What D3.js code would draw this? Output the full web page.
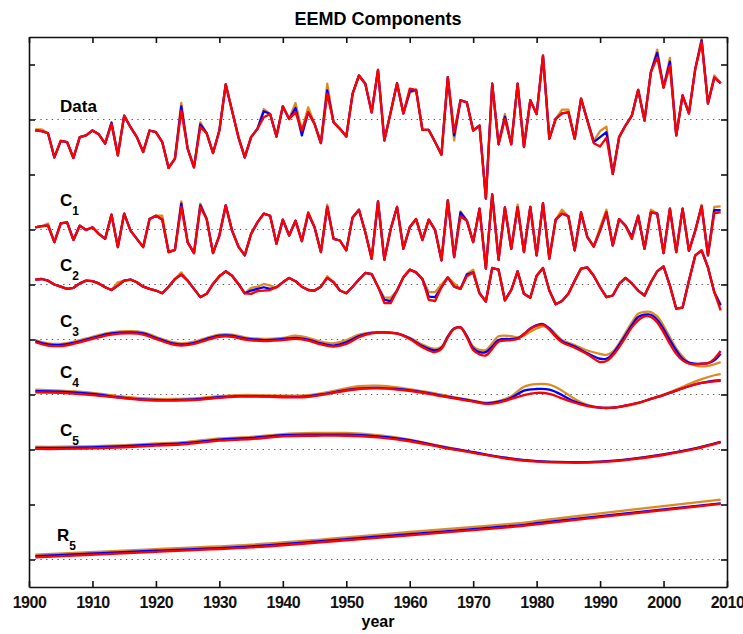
<!DOCTYPE html>
<html>
<head>
<meta charset="utf-8">
<script src="https://cdn.jsdelivr.net/npm/d3@7"></script>
<style>
  body { margin: 0; background: #fff; }
  text { font-family: "Liberation Sans", Arial, Helvetica, sans-serif; font-weight: bold; }
</style>
</head>
<body>
<script>
// anos (eje x)
var years = d3.range(1901, 2010);
var xTicks = [1900, 1910, 1920, 1930, 1940, 1950, 1960, 1970, 1980, 1990, 2000, 2010];
var yTicks = [0, 1, 2, 3, 4, 5, 6, 7, 8, 9];

// serie original (rojo), desde 1901
var dataRed = [
  -0.20, -0.21, -0.25, -0.69, -0.39, -0.41, -0.70, -0.32, -0.29, -0.20,
  -0.27, -0.44, -0.08, -0.65, 0.07, -0.14, -0.32, -0.59, -0.20, -0.23,
  -0.41, -0.88, -0.71, 0.16, -0.53, -0.87, -0.14, -0.25, -0.61, -0.20,
  0.64, 0.16, -0.32, -0.69, -0.32, -0.17, 0.04, 0.10, -0.31, 0.24,
  0.01, 0.13, -0.20, 0.13, -0.08, -0.43, 0.47, -0.05, -0.17, -0.31,
  0.47, 0.80, 0.65, 0.13, 0.90, -0.38, 0.13, 0.66, 0.11, 0.56,
  0.54, -0.19, -0.19, -0.41, -0.64, 0.77, -0.23, 0.35, 0.31, -0.20,
  -0.11, -1.44, 0.65, -0.45, 0.01, -0.45, 0.65, -0.50, 0.35, 0.10,
  1.16, -0.35, 0.01, 0.11, 0.13, -0.35, 0.38, -0.02, -0.43, -0.49,
  -0.33, -0.99, -0.32, -0.11, 0.07, 0.54, -0.02, 0.86, 1.13, 0.58,
  0.98, -0.29, 0.44, 0.11, 0.92, 1.41, 0.29, 0.76, 0.66
];
// donde azul / naranja se separan del rojo
var dataBlueFix = [[1913, -0.06], [1924, 0.24], [1927, -0.09], [1937, 0.15], [1942, 0.21], [1943, -0.29],
  [1947, 0.53], [1960, 0.51], [1967, -0.29], [1975, 0.05], [1989, -0.41], [1990, -0.32], [1991, -0.23],
  [1999, 1.21], [2001, 1.05], [2006, 1.44]];
var dataOrangeFix = [[1901, -0.18], [1902, -0.18], [1913, -0.05], [1924, 0.30], [1927, -0.05], [1937, 0.19],
  [1942, 0.30], [1944, 0.22], [1947, 0.65], [1960, 0.48], [1967, -0.38], [1975, 0.10], [1984, 0.18],
  [1985, 0.18], [1989, -0.39], [1990, -0.21], [1991, -0.13], [1999, 1.27], [2001, 1.12], [2006, 1.47], [2008, 0.80]];

var c1Red = [
  0.04, 0.06, 0.07, -0.23, 0.11, 0.13, -0.19, 0.07, -0.01, 0.04,
  -0.08, -0.17, 0.27, -0.32, 0.29, -0.02, -0.17, -0.32, 0.19, 0.25,
  0.18, -0.41, -0.37, 0.41, -0.23, -0.43, 0.41, 0.19, -0.43, -0.11,
  0.44, -0.02, -0.31, -0.47, -0.08, 0.13, 0.29, 0.25, -0.26, 0.18,
  -0.11, 0.16, -0.21, 0.31, 0.04, -0.41, 0.41, -0.17, -0.20, -0.38,
  0.22, 0.36, -0.05, -0.53, 0.51, -0.55, 0.01, 0.41, -0.35, 0.04,
  0.19, -0.19, 0.18, -0.01, -0.56, 0.53, -0.50, 0.24, 0.16, -0.23,
  0.38, -0.71, 0.64, -0.55, 0.40, -0.35, 0.40, -0.41, 0.41, -0.47,
  0.48, -0.53, 0.18, 0.29, 0.24, -0.38, 0.31, -0.14, -0.31, -0.02,
  0.31, -0.29, 0.19, 0.07, -0.17, 0.25, -0.35, 0.31, 0.29, -0.43,
  0.38, -0.41, 0.38, -0.39, -0.02, 0.42, -0.47, 0.30, 0.31
];
var c1BlueFix = [[1924, 0.47], [1927, 0.44], [1944, 0.28], [1968, 0.31], [1995, -0.13], [2008, 0.35], [2009, 0.35]];
var c1OrangeFix = [[1903, 0.11], [1921, 0.25], [1924, 0.51], [1927, 0.47], [1947, 0.45], [1968, 0.33], [1977, 0.45],
  [1984, 0.36], [1990, 0.04], [1991, 0.36], [1998, 0.36], [2006, 0.45], [2008, 0.41], [2009, 0.42]];

var c2Red = [
  0.09, 0.10, 0.07, 0.00, -0.04, -0.08, -0.06, 0.02, 0.07, 0.06,
  0.02, -0.05, -0.10, -0.02, 0.07, 0.09, 0.04, -0.04, -0.08, -0.11,
  -0.16, -0.04, 0.10, 0.18, 0.07, -0.08, -0.23, -0.17, 0.01, 0.15,
  0.24, 0.16, 0.01, -0.16, -0.17, -0.12, -0.11, -0.10, -0.05, 0.04,
  0.12, 0.06, -0.04, -0.10, -0.11, -0.04, 0.12, 0.04, -0.11, -0.16,
  -0.04, 0.09, 0.21, 0.19, -0.04, -0.34, -0.34, -0.11, 0.13, 0.27,
  0.22, 0.10, -0.28, -0.30, -0.05, 0.13, -0.04, -0.08, 0.15, 0.22,
  -0.16, -0.31, 0.30, 0.27, -0.29, -0.10, 0.24, -0.17, -0.24, 0.16,
  0.30, -0.11, -0.36, -0.30, -0.17, 0.07, 0.29, 0.31, 0.16, -0.05,
  -0.23, -0.20, 0.01, 0.12, 0.02, -0.11, -0.20, 0.04, 0.24, 0.33,
  -0.02, -0.44, -0.42, 0.07, 0.53, 0.62, 0.31, -0.14, -0.47
];
var c2BlueFix = [[1935, -0.11], [1936, -0.08], [1937, -0.05], [1938, -0.08], [1956, -0.28], [1957, -0.30],
  [1963, -0.22], [1964, -0.23], [1969, 0.18], [2009, -0.38]];
var c2OrangeFix = [[1914, 0.04], [1924, 0.22], [1935, -0.06], [1936, -0.04], [1937, 0.01], [1938, -0.02],
  [1947, 0.15], [1956, -0.24], [1957, -0.24], [1963, -0.14], [1964, -0.14], [1965, 0.00], [1967, 0.02],
  [1969, 0.19], [1970, 0.27], [2009, -0.36]];

// componentes suaves: pares [ano, valor]
var c3Red = [[1901, -0.05], [1903, -0.11], [1905, -0.12], [1907, -0.08], [1910, 0.01], [1913, 0.09], [1916, 0.11],
  [1918, 0.09], [1920, 0.01], [1922, -0.07], [1924, -0.11], [1926, -0.08], [1928, -0.01], [1930, 0.05], [1932, 0.05],
  [1934, 0.00], [1937, -0.03], [1940, -0.01], [1942, 0.01], [1944, -0.02], [1946, -0.09], [1948, -0.13], [1950, -0.08],
  [1952, 0.04], [1954, 0.11], [1956, 0.13], [1958, 0.11], [1960, 0.01], [1962, -0.14], [1964, -0.23], [1965, -0.17],
  [1966, 0.04], [1967, 0.19], [1968, 0.22], [1969, 0.04], [1970, -0.19], [1971, -0.27], [1972, -0.29], [1973, -0.17],
  [1974, -0.04], [1976, -0.01], [1977, 0.01], [1978, 0.10], [1979, 0.19], [1980, 0.25], [1981, 0.27], [1982, 0.18],
  [1983, 0.05], [1984, -0.05], [1986, -0.15], [1988, -0.27], [1990, -0.41], [1991, -0.39], [1992, -0.29], [1993, -0.14],
  [1994, 0.04], [1995, 0.22], [1996, 0.35], [1997, 0.42], [1998, 0.41], [1999, 0.31], [2000, 0.13], [2001, -0.08],
  [2002, -0.26], [2003, -0.38], [2004, -0.44], [2005, -0.45], [2006, -0.44], [2007, -0.43], [2008, -0.35], [2009, -0.21]];
var c3Blue = [[1901, -0.03], [1903, -0.09], [1905, -0.10], [1907, -0.06], [1910, 0.03], [1913, 0.11], [1916, 0.13],
  [1918, 0.11], [1920, 0.03], [1922, -0.05], [1924, -0.09], [1926, -0.06], [1928, 0.01], [1930, 0.07], [1932, 0.07],
  [1934, 0.02], [1937, -0.01], [1940, 0.01], [1942, 0.03], [1944, 0.00], [1946, -0.07], [1948, -0.11], [1950, -0.05],
  [1952, 0.06], [1954, 0.12], [1956, 0.13], [1958, 0.11], [1960, 0.02], [1962, -0.12], [1964, -0.20], [1965, -0.15],
  [1966, 0.05], [1967, 0.20], [1968, 0.22], [1969, 0.06], [1970, -0.16], [1971, -0.23], [1972, -0.23], [1973, -0.13],
  [1974, -0.01], [1976, 0.01], [1977, 0.02], [1978, 0.10], [1979, 0.20], [1980, 0.26], [1981, 0.28], [1982, 0.20],
  [1983, 0.07], [1984, -0.03], [1986, -0.13], [1988, -0.25], [1990, -0.35], [1991, -0.35], [1992, -0.26], [1993, -0.10],
  [1994, 0.08], [1995, 0.26], [1996, 0.41], [1997, 0.45], [1998, 0.45], [1999, 0.36], [2000, 0.19], [2001, -0.01],
  [2002, -0.20], [2003, -0.35], [2004, -0.42], [2005, -0.44], [2006, -0.44], [2007, -0.43], [2008, -0.38], [2009, -0.26]];
var c3Orange = [[1901, -0.01], [1903, -0.07], [1905, -0.08], [1907, -0.04], [1910, 0.05], [1913, 0.13], [1916, 0.15],
  [1918, 0.13], [1920, 0.05], [1922, -0.03], [1924, -0.07], [1926, -0.04], [1928, 0.03], [1930, 0.09], [1932, 0.09],
  [1934, 0.04], [1937, 0.01], [1940, 0.03], [1942, 0.07], [1944, 0.03], [1946, -0.04], [1948, -0.07], [1950, -0.01],
  [1952, 0.09], [1954, 0.13], [1956, 0.13], [1958, 0.10], [1960, 0.03], [1962, -0.09], [1964, -0.17], [1965, -0.13],
  [1966, 0.06], [1967, 0.20], [1968, 0.21], [1969, 0.07], [1970, -0.13], [1971, -0.19], [1972, -0.19], [1973, -0.07],
  [1974, 0.06], [1976, 0.06], [1977, 0.04], [1978, 0.07], [1979, 0.14], [1980, 0.20], [1981, 0.24], [1982, 0.21],
  [1983, 0.10], [1984, -0.01], [1986, -0.10], [1988, -0.20], [1990, -0.26], [1991, -0.28], [1992, -0.22], [1993, -0.07],
  [1994, 0.12], [1995, 0.31], [1996, 0.47], [1997, 0.50], [1998, 0.50], [1999, 0.42], [2000, 0.25], [2001, 0.04],
  [2002, -0.16], [2003, -0.31], [2004, -0.42], [2005, -0.47], [2006, -0.49], [2007, -0.48], [2008, -0.45], [2009, -0.41]];

var c4Years = [1901, 1905, 1910, 1915, 1920, 1923, 1926, 1930, 1933, 1936, 1940, 1943, 1946, 1949, 1952, 1955, 1958,
  1961, 1964, 1967, 1970, 1972, 1974, 1976, 1978, 1980, 1982, 1984, 1986, 1988, 1990, 1992, 1994, 1996, 1998, 2000,
  2002, 2004, 2006, 2008, 2009];
var c4Red = [0.04, 0.03, -0.01, -0.07, -0.11, -0.11, -0.10, -0.06, -0.04, -0.04, -0.05, -0.05, -0.01, 0.05, 0.10, 0.11,
  0.09, 0.05, -0.01, -0.07, -0.13, -0.17, -0.15, -0.08, -0.01, 0.03, 0.01, -0.07, -0.15, -0.21, -0.24, -0.24, -0.20,
  -0.15, -0.08, -0.01, 0.07, 0.15, 0.21, 0.24, 0.25];
var c4Blue = [0.06, 0.05, 0.01, -0.06, -0.10, -0.10, -0.09, -0.05, -0.03, -0.03, -0.04, -0.04, 0.00, 0.06, 0.11, 0.12,
  0.10, 0.06, 0.00, -0.06, -0.12, -0.16, -0.13, -0.06, 0.07, 0.10, 0.09, -0.01, -0.13, -0.20, -0.24, -0.24, -0.20,
  -0.15, -0.08, -0.01, 0.07, 0.15, 0.21, 0.25, 0.26];
var c4Orange = [0.09, 0.07, 0.03, -0.04, -0.08, -0.08, -0.07, -0.03, -0.01, -0.01, -0.02, -0.02, 0.02, 0.09, 0.15, 0.16,
  0.13, 0.08, 0.02, -0.05, -0.11, -0.15, -0.12, -0.03, 0.14, 0.19, 0.18, 0.07, -0.08, -0.19, -0.24, -0.24, -0.21,
  -0.16, -0.08, 0.00, 0.09, 0.19, 0.28, 0.35, 0.37];

var c5Years = [1901, 1905, 1910, 1915, 1920, 1925, 1930, 1935, 1940, 1945, 1950, 1955, 1960, 1965, 1970, 1975, 1980,
  1985, 1990, 1995, 2000, 2005, 2009];
var c5Red = [0.01, 0.01, 0.02, 0.04, 0.07, 0.10, 0.16, 0.19, 0.24, 0.25, 0.25, 0.22, 0.15, 0.04, -0.06, -0.16, -0.22,
  -0.24, -0.23, -0.18, -0.10, 0.01, 0.13];
var c5Blue = [0.03, 0.03, 0.04, 0.06, 0.09, 0.12, 0.18, 0.21, 0.26, 0.27, 0.27, 0.24, 0.17, 0.05, -0.05, -0.15, -0.21,
  -0.23, -0.22, -0.17, -0.09, 0.02, 0.14];
var c5Orange = [0.05, 0.05, 0.06, 0.08, 0.11, 0.14, 0.20, 0.23, 0.28, 0.30, 0.30, 0.26, 0.18, 0.06, -0.05, -0.15, -0.21,
  -0.23, -0.22, -0.17, -0.09, 0.02, 0.14];

var r5Years = [1901, 1920, 1935, 1950, 1960, 1975, 1980, 1990, 2009];
var r5Red = [0.04, 0.14, 0.22, 0.35, 0.44, 0.58, 0.64, 0.77, 1.01];
var r5Blue = [0.06, 0.16, 0.24, 0.37, 0.46, 0.60, 0.66, 0.79, 1.02];
var r5Orange = [0.09, 0.19, 0.27, 0.40, 0.50, 0.64, 0.70, 0.84, 1.09];

// nivel de referencia de cada componente en el eje y
var names = ["Data", "C", "C", "C", "C", "C", "R"];
var subs = ["", "1", "2", "3", "4", "5", "5"];
var baselines = [8, 6, 5, 4, 3, 2, 0];

var width = 743;
var height = 634;
var margen = { arriba: 37, abajo: 47, izquierda: 29, derecha: 16 };
var labelDy = [-8, -24, -14, -12.5, -16.5, -14, -19];
var colores = { orange: "#dd8a1e", blue: "#0000ff", red: "#ff0000" };

function conFix(valores, fixes) {
  var m = new Map(fixes);
  return years.map(function (yr, i) { return [yr, m.has(yr) ? m.get(yr) : valores[i]]; });
}
function pares(ys, vs) { return ys.map(function (yr, i) { return [yr, vs[i]]; }); }

var componentes = [
  { red: conFix(dataRed, []), blue: conFix(dataRed, dataBlueFix), orange: conFix(dataRed, dataOrangeFix), curva: d3.curveLinear },
  { red: conFix(c1Red, []), blue: conFix(c1Red, c1BlueFix), orange: conFix(c1Red, c1OrangeFix), curva: d3.curveLinear },
  { red: conFix(c2Red, []), blue: conFix(c2Red, c2BlueFix), orange: conFix(c2Red, c2OrangeFix), curva: d3.curveLinear },
  { red: c3Red, blue: c3Blue, orange: c3Orange, curva: d3.curveCatmullRom.alpha(0.5) },
  { red: pares(c4Years, c4Red), blue: pares(c4Years, c4Blue), orange: pares(c4Years, c4Orange), curva: d3.curveNatural },
  { red: pares(c5Years, c5Red), blue: pares(c5Years, c5Blue), orange: pares(c5Years, c5Orange), curva: d3.curveNatural },
  { red: pares(r5Years, r5Red), blue: pares(r5Years, r5Blue), orange: pares(r5Years, r5Orange), curva: d3.curveNatural }
];

var escalaX = d3.scaleLinear()
  .domain([1900, 2010])
  .range([margen.izquierda, width - margen.derecha]);

var escalaY = d3.scaleLinear()
  .domain([-0.5, 9.5])
  .range([height - margen.abajo, margen.arriba]);

var svg = d3.select("body")
  .append("svg")
  .attr("width", width)
  .attr("height", height);

// lineas punteadas de referencia
svg.selectAll("line.base")
  .data(baselines)
  .join("line")
  .attr("class", "base")
  .attr("x1", escalaX(1900))
  .attr("x2", escalaX(2010))
  .attr("y1", function (d) { return escalaY(d); })
  .attr("y2", function (d) { return escalaY(d); })
  .attr("stroke", "#555")
  .attr("stroke-width", 1.2)
  .attr("stroke-dasharray", "1.3,4.4");

// curvas: naranja, azul, rojo encima
componentes.forEach(function (c, i) {
  var linea = d3.line()
    .x(function (d) { return escalaX(d[0]); })
    .y(function (d) { return escalaY(baselines[i] + d[1]); })
    .curve(c.curva);
  ["orange", "blue", "red"].forEach(function (k) {
    svg.append("path")
      .attr("d", linea(c[k]))
      .attr("fill", "none")
      .attr("stroke", colores[k])
      .attr("stroke-width", 2.3)
      .attr("stroke-linejoin", "round");
  });
});

// etiquetas
componentes.forEach(function (c, i) {
  var t = svg.append("text")
    .attr("x", i === 6 ? 57 : 60)
    .attr("y", escalaY(baselines[i]) + labelDy[i])
    .style("font-size", "17px")
    .text(names[i]);
  if (subs[i]) {
    t.append("tspan")
      .attr("dy", 9)
      .style("font-size", "12px")
      .text(subs[i]);
  }
});

// ejes con marcas hacia dentro
var ejeAbajo = d3.axisBottom(escalaX).tickValues(xTicks).tickSize(-6).tickSizeOuter(0)
  .tickPadding(10).tickFormat(d3.format("d"));
var gAbajo = svg.append("g")
  .attr("transform", "translate(0," + (height - margen.abajo) + ")")
  .call(ejeAbajo);

svg.append("g")
  .attr("transform", "translate(0," + margen.arriba + ")")
  .call(d3.axisTop(escalaX).tickValues(xTicks).tickSize(-6).tickSizeOuter(0).tickFormat(""));

svg.append("g")
  .attr("transform", "translate(" + margen.izquierda + ",0)")
  .call(d3.axisLeft(escalaY).tickValues(yTicks).tickSize(-6).tickSizeOuter(0).tickFormat(""));

svg.append("g")
  .attr("transform", "translate(" + (width - margen.derecha) + ",0)")
  .call(d3.axisRight(escalaY).tickValues(yTicks).tickSize(-6).tickSizeOuter(0).tickFormat(""));

svg.selectAll(".domain, .tick line")
  .attr("stroke", "#111")
  .attr("stroke-width", 1.6);

gAbajo.selectAll("text")
  .style("font-size", "16px")
  .style("letter-spacing", "-0.5px")
  .attr("fill", "#111");

svg.append("text")
  .attr("x", escalaX(1955))
  .attr("y", 627)
  .attr("text-anchor", "middle")
  .style("font-size", "16px")
  .text("year");

svg.append("text")
  .attr("x", escalaX(1955))
  .attr("y", 25)
  .attr("text-anchor", "middle")
  .style("font-size", "18px")
  .text("EEMD Components");
</script>
</body>
</html>
